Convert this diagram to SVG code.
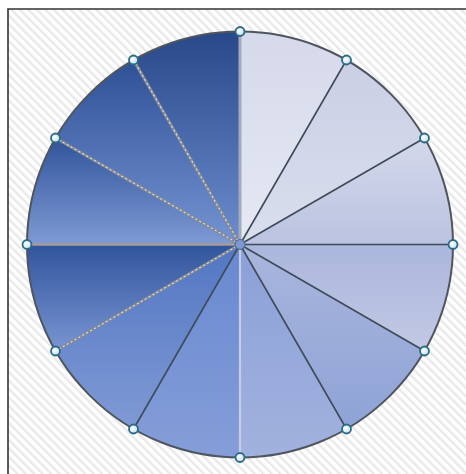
<svg xmlns="http://www.w3.org/2000/svg" width="466" height="474" viewBox="0 0 466 474">
<style>
.seg{stroke:none}
.dark{stroke:#3e4a58;stroke-width:1.6;fill:none}
.dot{stroke:#868a94;stroke-width:3;fill:none}
.dotov{stroke:#dadde3;stroke-width:1.2;stroke-dasharray:2 2.5;fill:none}
.h{fill:url(#hg);stroke:#2c6a86;stroke-width:1.8}
</style>
<defs>
<pattern id="stripes" patternUnits="userSpaceOnUse" width="6" height="6" patternTransform="rotate(-45)">
<rect width="6" height="6" fill="#ffffff"/>
<rect x="0" y="0" width="2.4" height="6" fill="#e9e9e9"/>
</pattern>
<radialGradient id="hg" cx="0.4" cy="0.4" r="0.6">
<stop offset="0" stop-color="#ffffff"/>
<stop offset="1" stop-color="#bfe0ea"/>
</radialGradient>
<linearGradient id="g1" x1="0" y1="0" x2="0" y2="1"><stop offset="0" stop-color="#d5d9ea"/><stop offset="1" stop-color="#e6e9f3"/></linearGradient>
<linearGradient id="g2" x1="0" y1="0" x2="0" y2="1"><stop offset="0" stop-color="#cacfe5"/><stop offset="1" stop-color="#dadeed"/></linearGradient>
<linearGradient id="g3" x1="0" y1="0" x2="0" y2="1"><stop offset="0" stop-color="#d4d8ea"/><stop offset="1" stop-color="#bac3e0"/></linearGradient>
<linearGradient id="g4" x1="0" y1="0" x2="0" y2="1"><stop offset="0" stop-color="#aab6dc"/><stop offset="1" stop-color="#c2c9e4"/></linearGradient>
<linearGradient id="g5" x1="0" y1="0" x2="0" y2="1"><stop offset="0" stop-color="#a9b6dd"/><stop offset="1" stop-color="#8ea3d6"/></linearGradient>
<linearGradient id="g6" x1="0" y1="0" x2="0" y2="1"><stop offset="0" stop-color="#8aa0d8"/><stop offset="1" stop-color="#a2b2de"/></linearGradient>
<linearGradient id="g7" x1="0" y1="0" x2="0" y2="1"><stop offset="0" stop-color="#6888d0"/><stop offset="1" stop-color="#859ed8"/></linearGradient>
<linearGradient id="g8" x1="0" y1="0" x2="0" y2="1"><stop offset="0" stop-color="#5276c2"/><stop offset="1" stop-color="#809ad5"/></linearGradient>
<linearGradient id="g9" x1="0" y1="0" x2="0" y2="1"><stop offset="0" stop-color="#30549c"/><stop offset="1" stop-color="#7a95d2"/></linearGradient>
<linearGradient id="g10" x1="0" y1="0" x2="0" y2="1"><stop offset="0" stop-color="#30549a"/><stop offset="1" stop-color="#7f9ad5"/></linearGradient>
<linearGradient id="g11" x1="0" y1="0" x2="0" y2="1"><stop offset="0" stop-color="#2e5096"/><stop offset="1" stop-color="#7594d2"/></linearGradient>
<linearGradient id="g12" x1="0" y1="0" x2="0" y2="1"><stop offset="0" stop-color="#284888"/><stop offset="1" stop-color="#6c8dce"/></linearGradient>
</defs>
<rect x="0" y="0" width="466" height="474" fill="#ffffff"/>
<rect x="8" y="9" width="458" height="465" fill="url(#stripes)"/>
<path d="M8,474 V9 H466" fill="none" stroke="#333333" stroke-width="1.6"/>

<g id="segments">
<g id="seg1"><path class="seg" fill="url(#g1)" d="M240,244.5 L240,31.5 A213,213 0 0 1 346.5,60 Z"/></g>
<g id="seg2"><path class="seg" fill="url(#g2)" d="M240,244.5 L346.5,60 A213,213 0 0 1 424.5,138 Z"/></g>
<g id="seg3"><path class="seg" fill="url(#g3)" d="M240,244.5 L424.5,138 A213,213 0 0 1 453,244.5 Z"/></g>
<g id="seg4"><path class="seg" fill="url(#g4)" d="M240,244.5 L453,244.5 A213,213 0 0 1 424.5,351 Z"/></g>
<g id="seg5"><path class="seg" fill="url(#g5)" d="M240,244.5 L424.5,351 A213,213 0 0 1 346.5,429 Z"/></g>
<g id="seg6"><path class="seg" fill="url(#g6)" d="M240,244.5 L346.5,429 A213,213 0 0 1 240,457.5 Z"/></g>
<g id="seg7"><path class="seg" fill="url(#g7)" d="M240,244.5 L240,457.5 A213,213 0 0 1 133.5,429 Z"/></g>
<g id="seg8"><path class="seg" fill="url(#g8)" d="M240,244.5 L133.5,429 A213,213 0 0 1 55.5,351 Z"/></g>
<g id="seg9"><path class="seg" fill="url(#g9)" d="M240,244.5 L55.5,351 A213,213 0 0 1 27,244.5 Z"/></g>
<g id="seg10"><path class="seg" fill="url(#g10)" d="M240,244.5 L27,244.5 A213,213 0 0 1 55.5,138 Z"/></g>
<g id="seg11"><path class="seg" fill="url(#g11)" d="M240,244.5 L55.5,138 A213,213 0 0 1 133.5,60 Z"/></g>
<g id="seg12"><path class="seg" fill="url(#g12)" d="M240,244.5 L133.5,60 A213,213 0 0 1 240,31.5 Z"/></g>
</g>

<g id="connectors">
<circle cx="240" cy="244.5" r="213" fill="none" stroke="#4f555e" stroke-width="2"/>
<line class="dark" x1="240" y1="244.5" x2="346.5" y2="60"/>
<line class="dark" x1="240" y1="244.5" x2="424.5" y2="138"/>
<line class="dark" x1="240" y1="244.5" x2="453" y2="244.5"/>
<line class="dark" x1="240" y1="244.5" x2="424.5" y2="351"/>
<line class="dark" x1="240" y1="244.5" x2="346.5" y2="429"/>
<line x1="240" y1="244.5" x2="240" y2="457.5" stroke="#c6cde2" stroke-width="2.2"/>
<line class="dark" x1="240" y1="244.5" x2="133.5" y2="429" stroke="#4e5a66"/>
<line class="dot" x1="240" y1="244.5" x2="55.5" y2="351"/>
<line class="dotov" x1="240" y1="244.5" x2="55.5" y2="351"/>
<line x1="240" y1="244.5" x2="27" y2="244.5" stroke="#a59c96" stroke-width="2.6"/>
<line class="dot" x1="240" y1="244.5" x2="55.5" y2="138"/>
<line class="dotov" x1="240" y1="244.5" x2="55.5" y2="138"/>
<line class="dot" x1="240" y1="244.5" x2="133.5" y2="60"/>
<line class="dotov" x1="240" y1="244.5" x2="133.5" y2="60"/>
<line x1="240" y1="244.5" x2="240" y2="31.5" stroke="#a2aabb" stroke-width="3"/>
</g>

<g id="handles">
<g id="h0"><circle class="h" cx="240" cy="31.5" r="4.5"/></g>
<g id="h30"><circle class="h" cx="346.5" cy="60" r="4.5"/></g>
<g id="h60"><circle class="h" cx="424.5" cy="138" r="4.5"/></g>
<g id="h90"><circle class="h" cx="453" cy="244.5" r="4.5"/></g>
<g id="h120"><circle class="h" cx="424.5" cy="351" r="4.5"/></g>
<g id="h150"><circle class="h" cx="346.5" cy="429" r="4.5"/></g>
<g id="h180"><circle class="h" cx="240" cy="457.5" r="4.5"/></g>
<g id="h210"><circle class="h" cx="133.5" cy="429" r="4.5"/></g>
<g id="h240"><circle class="h" cx="55.5" cy="351" r="4.5"/></g>
<g id="h270"><circle class="h" cx="27" cy="244.5" r="4.5"/></g>
<g id="h300"><circle class="h" cx="55.5" cy="138" r="4.5"/></g>
<g id="h330"><circle class="h" cx="133.5" cy="60" r="4.5"/></g>
<g id="center"><circle cx="240" cy="244.5" r="5" fill="#7e98d0" stroke="#4d6c92" stroke-width="1.2"/></g>
</g>
</svg>
